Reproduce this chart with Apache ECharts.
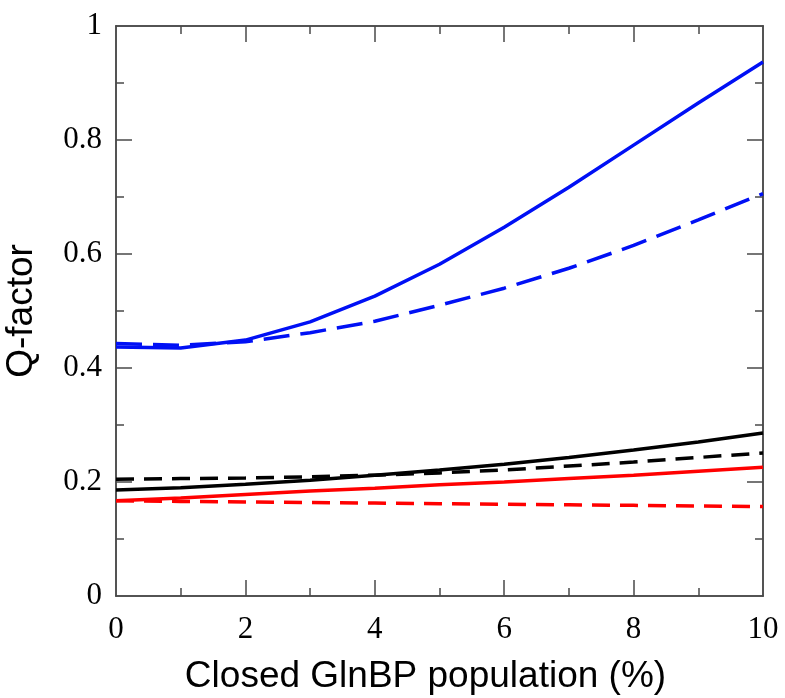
<!DOCTYPE html>
<html>
<head>
<meta charset="utf-8">
<script src="https://cdn.jsdelivr.net/npm/echarts@6/dist/echarts.min.js"></script>
<style>
  html, body { margin: 0; padding: 0; background: #fff; }
  #main { width: 785px; height: 698px; }
</style>
</head>
<body>
<div id="main"></div>
<script>
var population = [0, 1, 2, 3, 4, 5, 6, 7, 8, 9, 10];
var blueSolid = [0.437, 0.435, 0.449, 0.481, 0.526, 0.582, 0.647, 0.717, 0.791, 0.865, 0.937];
var blueDashed = [0.443, 0.440, 0.446, 0.462, 0.482, 0.510, 0.540, 0.575, 0.615, 0.660, 0.706];
var blackSolid = [0.186, 0.190, 0.196, 0.203, 0.212, 0.221, 0.231, 0.243, 0.256, 0.270, 0.286];
var blackDashed = [0.205, 0.206, 0.207, 0.209, 0.212, 0.216, 0.221, 0.228, 0.235, 0.243, 0.251];
var redSolid = [0.167, 0.172, 0.178, 0.184, 0.189, 0.195, 0.200, 0.206, 0.212, 0.219, 0.226];
var redDashed = [0.167, 0.166, 0.165, 0.164, 0.163, 0.162, 0.161, 0.160, 0.159, 0.158, 0.157];

function pairs(ys) {
  return population.map(function (x, i) { return [x, ys[i]]; });
}

var chartDom = document.getElementById("main");
var myChart = echarts.init(chartDom);
var axisColor = "#4a4a4a";
var tickFont = { fontFamily: "Liberation Serif", fontSize: 31, color: "#000" };
var nameFont = { fontFamily: "Liberation Sans", fontSize: 37, color: "#000" };

// frame axis: only minor ticks are drawn (major ticks do not show up here),
// so long ticks come from extra axes whose minor ticks fall on the major values
function frameAxis(extra, tickLen, split) {
  var a = {
    type: "value",
    axisLine: { show: true, onZero: false, lineStyle: { color: axisColor, width: 1.5 } },
    axisTick: { show: false },
    minorTick: { show: true, splitNumber: split, length: tickLen, lineStyle: { color: axisColor, width: 1.5 } },
    axisLabel: { show: false },
    splitLine: { show: false },
  };
  a.axisTick = { show: true, inside: true, length: 0.01, lineStyle: { color: "rgba(0,0,0,0)" } };
  return Object.assign(a, extra);
}

function line(name, ys, color, dash) {
  return {
    name: name,
    type: "line",
    xAxisIndex: 0,
    yAxisIndex: 0,
    data: pairs(ys),
    showSymbol: false,
    smooth: false,
    lineStyle: { color: color, width: 3.5, type: dash || "solid" },
  };
}

var option = {
  animation: false,
  grid: { left: 116, top: 26, width: 647, height: 570, containLabel: false, outerBoundsMode: "none" },
  xAxis: [
    frameAxis({
      position: "bottom",
      min: 0,
      max: 10,
      interval: 2,
      name: "Closed GlnBP population (%)",
      nameLocation: "middle",
      nameGap: 62,
      nameTextStyle: Object.assign({ padding: [0, 28, 0, 0] }, nameFont),
      axisLabel: Object.assign({ show: true, margin: 18 }, tickFont),
    }, 8, 2),
    frameAxis({ position: "top", min: 0, max: 10, interval: 2 }, 8, 2),
    frameAxis({ position: "bottom", min: 0, max: 10, interval: 10 }, 16, 5),
    frameAxis({ position: "top", min: 0, max: 10, interval: 10 }, 16, 5),
  ],
  yAxis: [
    frameAxis({
      position: "left",
      min: 0,
      max: 1,
      interval: 0.2,
      name: "Q-factor",
      nameLocation: "middle",
      nameGap: 76,
      nameRotate: 90,
      nameTextStyle: nameFont,
      axisLabel: Object.assign({ show: true, margin: 14 }, tickFont),
    }, 8, 2),
    frameAxis({ position: "right", min: 0, max: 1, interval: 0.2 }, 8, 2),
    frameAxis({ position: "left", min: 0, max: 1, interval: 1 }, 16, 5),
    frameAxis({ position: "right", min: 0, max: 1, interval: 1 }, 16, 5),
  ],
  series: [
    line("blue solid", blueSolid, "#0010f5"),
    line("blue dashed", blueDashed, "#0010f5", [26, 11]),
    line("black solid", blackSolid, "#000000"),
    line("black dashed", blackDashed, "#000000", [18, 10]),
    line("red solid", redSolid, "#ff0000"),
    line("red dashed", redDashed, "#ff0000", [18, 10]),
  ],
};

option && myChart.setOption(option);
window.addEventListener("resize", function () {
  myChart.resize();
});
</script>
</body>
</html>
